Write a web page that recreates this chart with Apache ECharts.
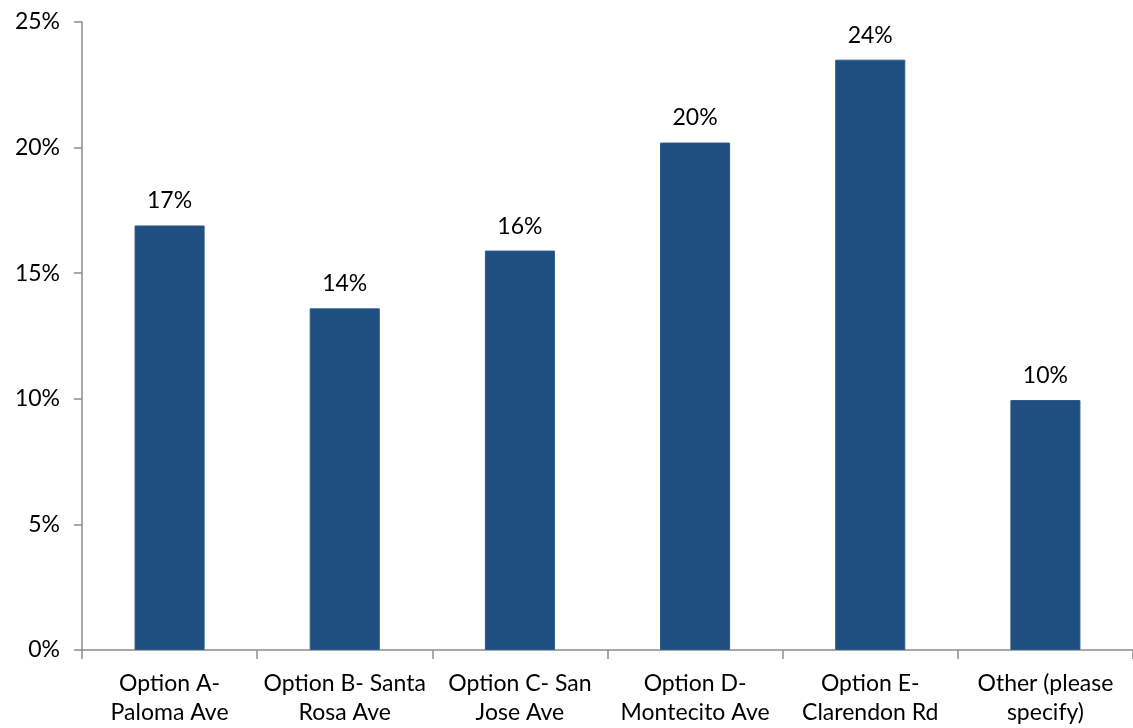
<!DOCTYPE html>
<html>
<head>
<meta charset="utf-8">
<script src="https://cdn.jsdelivr.net/npm/echarts@6/dist/echarts.min.js"></script>
<style>
html,body{margin:0;padding:0;background:#fff;}
#chart{width:1133px;height:728px;}
</style>
</head>
<body>
<div id="chart"></div>
<script>
const categories = [
  "Option A-\nPaloma Ave",
  "Option B- Santa\nRosa Ave",
  "Option C- San\nJose Ave",
  "Option D-\nMontecito Ave",
  "Option E-\nClarendon Rd",
  "Other (please\nspecify)"
];
const values = [16.9, 13.6, 15.9, 20.2, 23.5, 9.95];
const yTicks = [0, 5, 10, 15, 20, 25];

const FONT = "Lato, 'Open Sans', sans-serif";
const chart = echarts.init(document.getElementById('chart'), null, {renderer: 'canvas'});
chart.setOption({
  animation: false,
  backgroundColor: '#ffffff',
  grid: {left: 82, right: 0, top: 22, bottom: 78, containLabel: false},
  xAxis: {
    type: 'category',
    data: categories,
    axisLine: {show: true, lineStyle: {color: '#8c8c8c', width: 1.5}},
    axisTick: {show: true, alignWithLabel: false, length: 9, lineStyle: {color: '#8c8c8c', width: 1.5}},
    axisLabel: {color: '#000', fontFamily: FONT, fontSize: 23, lineHeight: 29, margin: 19, interval: 0}
  },
  yAxis: {
    type: 'value',
    min: yTicks[0],
    max: yTicks[yTicks.length - 1],
    interval: 5,
    splitLine: {show: false},
    axisLine: {show: true, lineStyle: {color: '#8c8c8c', width: 1.5}},
    axisTick: {show: true, length: 8, lineStyle: {color: '#8c8c8c', width: 1.5}},
    axisLabel: {color: '#000', fontFamily: FONT, fontSize: 23, margin: 22, formatter: v => v + '%'}
  },
  series: [{
    type: 'bar',
    data: values,
    barWidth: '40%',
    itemStyle: {color: '#1F4E80', borderColor: '#2d5a8a', borderWidth: 1},
    label: {
      show: true, position: 'top', distance: 13,
      color: '#000', fontFamily: FONT, fontSize: 23,
      formatter: p => Math.round(p.value) + '%'
    }
  }]
});
</script>
</body>
</html>
